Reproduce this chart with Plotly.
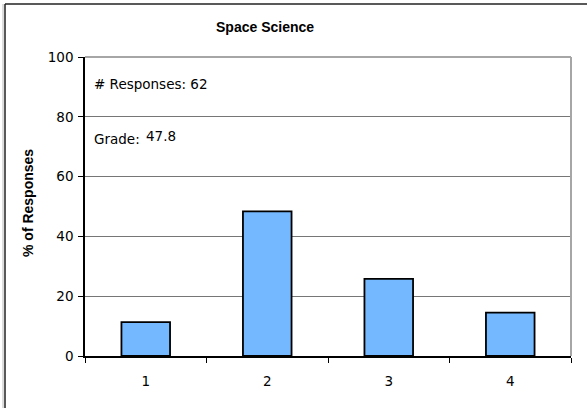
import plotly.graph_objects as go

categories = ["1", "2", "3", "4"]
percent_responses = [11.3, 48.4, 25.8, 14.5]
y_ticks = [0, 20, 40, 60, 80, 100]
title_text = "Space Science"
y_title = "% of Responses"
responses_text = "# Responses: 62"
grade_label = "Grade:"
grade_value = "47.8"

W, H = 587, 408
L, R, T, B = 85, 16, 57, 52
pw, ph = W - L - R, H - T - B

def px(x):
    return (x - L) / pw

def py(y):
    return (H - B - y) / ph

FONT = "DejaVu Sans"
BOLD = "Liberation Sans"

fig = go.Figure(
    go.Bar(
        x=categories,
        y=percent_responses,
        width=0.4,
        marker=dict(color="#74B9FF", line=dict(color="black", width=1.8)),
    )
)

fig.update_layout(
    width=W,
    height=H,
    margin=dict(l=L, r=R, t=T, b=B),
    paper_bgcolor="white",
    plot_bgcolor="white",
    showlegend=False,
    font=dict(family=FONT, size=13, color="black"),
    xaxis=dict(
        type="category",
        tickson="boundaries",
        ticks="outside",
        ticklen=5,
        tickcolor="black",
        showline=True,
        linecolor="black",
        linewidth=1.5,
        showgrid=False,
        tickfont=dict(family=FONT, size=13.5),
        ticklabelstandoff=12,
    ),
    yaxis=dict(
        range=[0, 100],
        tickvals=y_ticks,
        ticks="outside",
        ticklen=5,
        tickcolor="black",
        showline=True,
        linecolor="black",
        linewidth=1.5,
        showgrid=True,
        gridcolor="#767676",
        gridwidth=1,
        zeroline=False,
        tickfont=dict(family=FONT, size=13.5),
        ticklabelstandoff=2,
    ),
)

# plot area top and right borders (gray)
fig.add_shape(type="line", xref="paper", yref="paper", x0=0, x1=1, y0=1, y1=1,
              line=dict(color="#a6a6a6", width=2))
fig.add_shape(type="line", xref="paper", yref="paper", x0=1, x1=1, y0=0, y1=1,
              line=dict(color="#a6a6a6", width=2))

# outer chart frame (cropped at right and bottom)
fig.add_shape(type="line", xref="paper", yref="paper", x0=px(5), x1=px(W + 10),
              y0=py(4), y1=py(4), line=dict(color="#222222", width=1.5))
fig.add_shape(type="line", xref="paper", yref="paper", x0=px(5), x1=px(5),
              y0=py(4), y1=py(H + 10), line=dict(color="#222222", width=1.5))
fig.add_shape(type="line", xref="paper", yref="paper", x0=px(3), x1=px(3),
              y0=py(4), y1=py(H + 10), line=dict(color="#bbbbbb", width=1))

fig.add_annotation(text="<b>" + title_text + "</b>", xref="paper", yref="paper",
                   x=px(265), y=py(27), xanchor="center", yanchor="middle",
                   showarrow=False, font=dict(family=BOLD, size=14))
fig.add_annotation(text="<b>" + y_title + "</b>", xref="paper", yref="paper",
                   x=px(28), y=py(203), xanchor="center", yanchor="middle",
                   textangle=-90, showarrow=False,
                   font=dict(family=BOLD, size=14))
fig.add_annotation(text=responses_text, xref="paper", yref="paper",
                   x=px(92), y=py(84), xanchor="left", yanchor="middle",
                   showarrow=False, font=dict(family=FONT, size=13.5))
fig.add_annotation(text=grade_label, xref="paper", yref="paper",
                   x=px(92), y=py(139), xanchor="left", yanchor="middle",
                   showarrow=False, font=dict(family=FONT, size=13.5))
fig.add_annotation(text=grade_value, xref="paper", yref="paper",
                   x=px(144), y=py(135.5), xanchor="left", yanchor="middle",
                   showarrow=False, font=dict(family=FONT, size=13.5))

fig.write_html("out.html", config={"displayModeBar": False},
               post_script="document.body.style.margin='0';")
